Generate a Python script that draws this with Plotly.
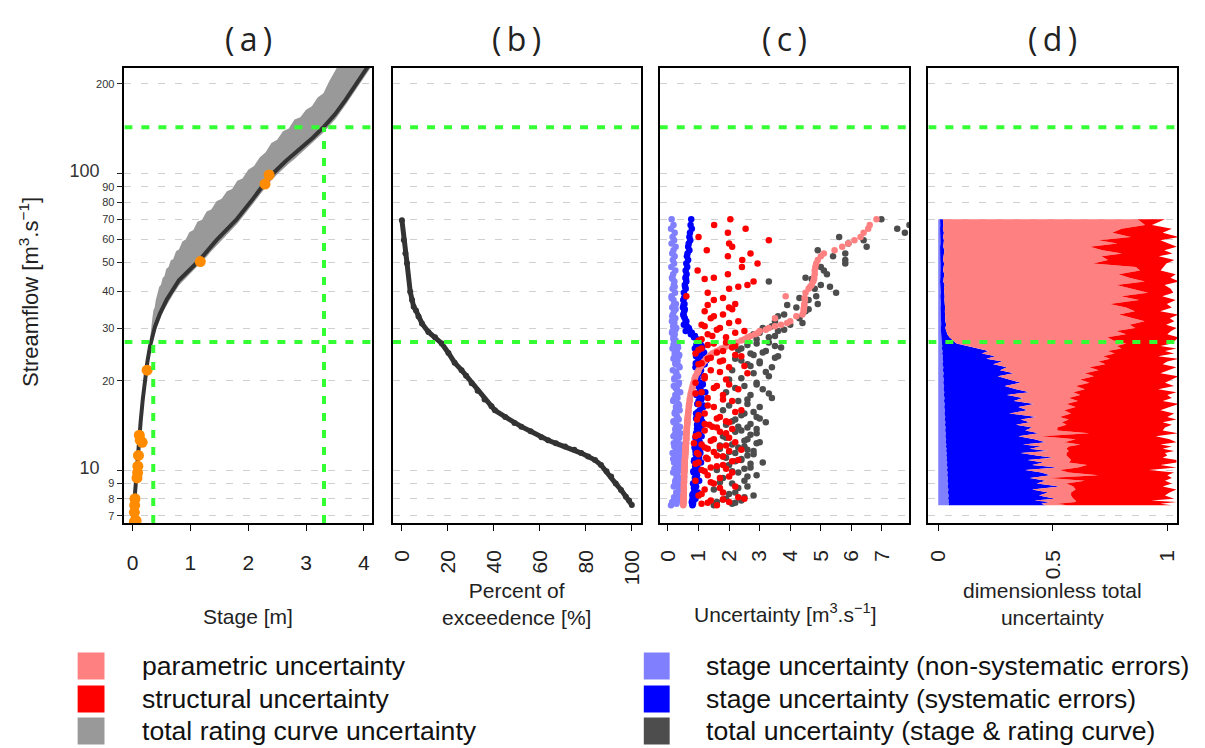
import plotly.graph_objects as go

W, H = 1205, 748

# ---------------- data ----------------
# (a) rating curve
stage_curve = [0, 0.035, 0.07, 0.10, 0.14, 0.175, 0.21, 0.255, 0.30, 0.34, 0.385, 0.47, 0.585,
               0.80, 1.16, 1.45, 1.79, 2.08, 2.37, 2.65, 2.94, 3.12, 3.31, 3.50, 3.68, 3.86, 4.03, 4.14]
flow_curve = [6.63, 8.2, 10.0, 12.2, 14.7, 17.3, 20.1, 23.2, 26.1, 28.5, 30.4, 33.6, 37.4,
              43.6, 51.1, 59.5, 69.6, 82.0, 97.4, 110, 123, 132, 143.6, 158, 176.5, 199, 223, 240]
band_stage = [0.30, 0.32, 0.34, 0.36, 0.38, 0.40, 0.43, 0.46, 0.49, 0.52, 0.55, 0.58, 0.62, 0.66,
              0.70, 0.75, 0.80, 0.86, 0.92, 0.98, 1.05, 1.12, 1.20, 1.28, 1.36, 1.45, 1.54, 1.63,
              1.72, 1.81, 1.90, 2.00, 2.10, 2.20, 2.30, 2.40, 2.50, 2.60, 2.70, 2.80, 2.90, 3.00,
              3.10, 3.20, 3.30, 3.40, 3.51, 3.7, 3.9, 4.14]
band_low = [25.1, 26.2, 27.4, 28.1, 29.0, 29.7, 30.8, 31.9, 32.9, 33.9, 34.8, 35.7, 36.9, 38.0,
            39.1, 40.4, 41.9, 43.1, 44.3, 45.5, 46.8, 48.3, 50.1, 52.3, 54.6, 57.1, 59.5, 62.1,
            64.8, 67.6, 71.0, 75.2, 79.7, 84.7, 89.9, 94.8, 99.1, 103.5, 107.6, 111.8, 116.4, 121.0,
            125.8, 131.0, 137.3, 144.3, 152.4, 171.8, 195.8, 230.4]
band_high = [27.5, 30.9, 32.5, 34.6, 35.2, 37.4, 39.1, 41.5, 42.1, 44.5, 45.0, 47.6, 48.3, 50.9,
             51.3, 54.6, 55.4, 58.9, 59.9, 63.3, 64.4, 68.6, 69.8, 74.4, 75.5, 80.5, 82.0, 87.0,
             88.6, 94.4, 96.0, 102.7, 105.9, 113.3, 117.8, 126.5, 129.7, 138.6, 141.6, 151.8,
             154.4, 163.9, 168.3, 180.1, 186.1, 204.4, 223, 260, 290, 330]
gauge_stage = [2.36, 2.29, 1.17, 0.25, 0.115, 0.13, 0.165, 0.10, 0.09, 0.085, 0.075, 0.04,
               0.035, 0.03, 0.06, 0.03]
gauge_flow = [98.7, 92.0, 50.4, 21.7, 13.1, 12.6, 12.4, 11.2, 10.3, 9.8, 9.4, 8.0,
              7.6, 7.2, 6.75, 6.7]

# thresholds (green lines)
flow_low_thr = 27.0
flow_high_thr = 143.0
stage_low_thr = 0.356
stage_high_thr = 3.31

# (b) flow duration curve
exceed_pct = [0.1, 0.9, 1.6, 2.3, 3.7, 4.5, 5.2, 6.2, 7.3, 8.8, 11.6, 14.5, 17.4, 20.3, 23, 26, 28,
              30.4, 33, 36, 39, 40.5, 45, 49, 52, 56, 60.7, 63.6, 67, 71, 75, 78, 81, 84, 86.6,
              89, 91, 93, 95.3, 97.4, 98.8, 100]
exceed_flow = [69.5, 59.6, 53.7, 49.8, 39.9, 37.4, 35.5, 34.5, 32.9, 31.2, 29.2, 28.0, 26.7, 24.8,
               23.0, 21.7, 20.8, 19.6, 18.5, 17.3, 16.4, 15.9, 15.1, 14.4, 14.0, 13.5, 12.9, 12.6,
               12.3, 12.0, 11.7, 11.4, 11.1, 10.8, 10.4, 9.9, 9.5, 9.0, 8.57, 8.13, 7.9, 7.62]

# (c) & (d) daily flows
flows = [70, 67, 65, 63, 61, 59.5, 58, 56.5, 55, 53.7, 52.5, 51, 49.7, 48.3, 47, 45.7, 44.5, 43.2,
         42, 40.8, 39.6, 38.5, 37.4, 36.3, 35.3, 34.3, 33.4, 32.5, 31.7, 30.9, 30.1, 29.4, 28.7,
         28.0, 27.3,
         26.7, 26.2, 25.7, 25.2, 24.7, 24.2, 23.7, 23.2, 22.7, 22.2, 21.7, 21.2, 20.7, 20.2, 19.7,
         19.2, 18.7, 18.3, 17.9, 17.5, 17.1, 16.7, 16.3, 15.9, 15.5, 15.1, 14.8, 14.5, 14.2, 13.9,
         13.6, 13.3, 13.0, 12.7, 12.4, 12.2, 12.0, 11.8, 11.6, 11.4, 11.2, 11.0, 10.8, 10.6, 10.4,
         10.2, 10.0, 9.8, 9.6, 9.4, 9.2, 9.0, 8.8, 8.6, 8.4, 8.2, 8.0, 7.9, 7.8, 7.7, 7.6]
# further days shown in (c)
flows_more = [44.0, 41.5, 38.0, 36.0, 34.8, 33.0, 31.3, 30.5, 29.7, 29.0, 28.3, 27.6,
              26.9, 26.4, 25.9, 25.4, 24.9, 24.4, 23.9, 23.4, 22.9, 22.4, 21.4, 20.4, 19.4, 18.9,
              18.1, 17.3, 16.5, 15.7, 15.3, 14.9, 14.6, 14.3, 14.0, 13.75,
              13.45, 13.15, 12.85, 12.55, 12.3, 12.1, 11.9, 11.7, 11.5, 11.3, 11.1, 10.9, 10.7,
              10.5, 10.3, 10.1, 9.9, 9.5, 9.1, 8.7, 8.3, 8.1, 7.95, 7.75]

# (c) uncertainties [m3/s]
unc_stage_nonsys = [0.12, 0.18, 0.10, 0.22, 0.15, 0.20, 0.12, 0.25, 0.18, 0.14, 0.22, 0.16, 0.20, 0.11,
                    0.24, 0.17, 0.13, 0.21, 0.19, 0.15, 0.23, 0.12, 0.18, 0.26, 0.14, 0.20, 0.16, 0.24,
                    0.13, 0.19, 0.27, 0.15, 0.22, 0.18, 0.25,
                    0.20, 0.32, 0.15, 0.28, 0.22, 0.35, 0.18, 0.30, 0.25, 0.38, 0.16, 0.27, 0.33, 0.21,
                    0.36, 0.19, 0.29, 0.40, 0.24, 0.31, 0.17, 0.34, 0.26, 0.38, 0.22, 0.30, 0.35, 0.19,
                    0.28, 0.37,
                    0.25, 0.40, 0.18, 0.33, 0.28, 0.42, 0.21, 0.36, 0.30, 0.15, 0.38, 0.26, 0.43, 0.20,
                    0.34, 0.29, 0.39, 0.17, 0.31, 0.41, 0.24, 0.35, 0.19, 0.37, 0.27, 0.44, 0.22, 0.32,
                    0.14, 0.28, 0.10]
unc_stage_nonsys_more = [0.15, 0.22, 0.12, 0.19, 0.25, 0.14, 0.21, 0.17, 0.24, 0.13, 0.20, 0.18,
                         0.26, 0.18, 0.33, 0.22, 0.29, 0.37, 0.20, 0.31, 0.24, 0.35, 0.27, 0.21, 0.34,
                         0.25, 0.30, 0.19, 0.36, 0.23, 0.28, 0.32, 0.18, 0.26, 0.39, 0.24,
                         0.30, 0.22, 0.37, 0.27, 0.19, 0.34, 0.25, 0.41, 0.29, 0.23, 0.36, 0.17, 0.32,
                         0.26, 0.39, 0.21, 0.33, 0.28, 0.24, 0.36, 0.30, 0.20, 0.35, 0.26]
unc_stage_sys = [0.76, 0.74, 0.78, 0.72, 0.70, 0.73, 0.68, 0.66, 0.70, 0.64, 0.62, 0.66, 0.60, 0.63,
                 0.58, 0.61, 0.57, 0.60, 0.55, 0.58, 0.52, 0.56, 0.50, 0.54, 0.49, 0.53, 0.50, 0.55,
                 0.60, 0.52, 0.68, 0.58, 0.75, 0.85, 1.00,
                 0.95, 1.10, 0.88, 1.02, 1.15, 0.92, 1.05, 0.98, 1.20, 0.90, 1.08, 1.00, 1.18, 0.94,
                 1.12, 0.97, 1.05, 1.22, 0.93, 1.10, 1.00, 0.96, 1.15, 1.04, 0.92, 1.08, 1.00, 1.13,
                 0.95, 1.06,
                 1.00, 0.92, 1.10, 0.96, 1.04, 0.88, 1.12, 0.98, 0.90, 1.06, 0.94, 1.02, 0.86, 1.08,
                 0.96, 0.90, 1.00, 0.84, 0.95, 0.88, 1.02, 0.82, 0.92, 0.86, 0.98, 0.80, 0.90, 0.84,
                 0.78, 0.82, 0.80]
unc_stage_sys_more = [0.59, 0.56, 0.53, 0.51, 0.55, 0.52, 0.57, 0.62, 0.70, 0.78, 0.88, 0.95,
                      1.05, 0.93, 1.12, 0.99, 1.18, 0.95, 1.07, 1.25, 0.91, 1.10, 1.02, 0.97, 1.14,
                      1.06, 0.94, 1.09, 1.16, 0.98, 1.03, 0.92, 1.11, 0.99, 1.07, 0.95,
                      0.97, 1.05, 0.90, 1.01, 0.93, 1.09, 0.87, 0.99, 1.04, 0.91, 0.96, 1.00, 0.85,
                      0.94, 0.89, 0.97, 0.83, 0.93, 0.88, 0.85, 0.81, 0.86, 0.80, 0.79]
unc_param = [6.82, 6.6, 6.55, 6.4, 6.3, 6.1, 5.9, 5.7, 5.45, 5.1, 5.0, 4.9, 4.85, 4.82, 4.8, 4.8,
             4.78, 4.75, 4.7, 4.6, 4.5, 3.85, 4.48, 4.46, 4.45, 4.44, 4.4, 3.5, 4.0, 3.7, 3.3, 3.0,
             2.85, 2.6, 2.4,
             2.15, 1.95, 1.75, 1.6, 1.45, 1.35, 1.25, 1.18, 1.1, 1.05, 1.0, 0.95, 0.9, 0.87, 0.84,
             0.81, 0.78, 0.76, 0.74, 0.72, 0.71, 0.69, 0.68, 0.67, 0.66, 0.65, 0.64, 0.63, 0.63, 0.62,
             0.61, 0.61, 0.60, 0.60, 0.59, 0.59, 0.58, 0.58, 0.57, 0.57, 0.56, 0.56, 0.55, 0.55, 0.55,
             0.54, 0.54, 0.54, 0.53, 0.53, 0.53, 0.52, 0.52, 0.52, 0.52, 0.51, 0.51, 0.51, 0.51, 0.50,
             0.50]
unc_param_more = [4.78, 4.65, 4.47, 4.46, 4.44, 4.2, 3.9, 3.5, 3.2, 2.95, 2.7, 2.5,
                  2.25, 2.05, 1.85, 1.68, 1.52, 1.4, 1.3, 1.22, 1.14, 1.08, 0.98, 0.88, 0.82, 0.80,
                  0.75, 0.715, 0.69, 0.665, 0.655, 0.645, 0.635, 0.63, 0.62, 0.615,
                  0.61, 0.60, 0.60, 0.59, 0.59, 0.58, 0.58, 0.57, 0.57, 0.565, 0.56, 0.555, 0.55,
                  0.55, 0.545, 0.54, 0.535, 0.53, 0.525, 0.52, 0.515, 0.51, 0.505, 0.50]
unc_struct = [2.04, 1.51, 2.54, 1.96, 1.0, 3.3, 2.0, 2.1, 1.27, 2.7, 1.96, 2.43, 2.93, 2.42, 0.97,
              1.96, 1.5, 2.8, 2.6, 2.0, 1.3, 0.6, 1.5, 2.2, 2.0, 1.2, 1.8, 1.4, 2.3, 1.1, 1.7, 2.5,
              1.3, 1.9, 1.0,
              1.5, 2.2, 1.1, 1.8, 0.9, 2.4, 1.3, 1.7, 1.0, 2.0, 1.4, 2.6, 1.2, 1.9, 0.9, 1.6, 2.3,
              1.1, 1.8, 1.3, 2.1, 1.0, 1.5, 2.4, 1.2, 1.7, 0.95, 2.0, 1.35, 1.6,
              1.2, 1.9, 0.9, 1.5, 2.2, 1.1, 1.7, 1.3, 2.0, 0.95, 1.6, 1.25, 2.3, 1.0, 1.8, 1.4, 1.1,
              2.1, 1.3, 1.7, 0.9, 1.5, 2.2, 1.2, 1.8, 1.0, 2.5, 1.4, 2.0, 1.1, 1.6]
unc_struct_more = [1.2, 2.3, 1.8, 1.3, 2.1, 1.5, 2.0, 1.2, 1.6, 2.2, 1.45, 1.1,
                   1.9, 1.3, 2.1, 1.0, 1.6, 2.2, 1.4, 1.8, 1.1, 2.5, 1.7, 1.2, 2.0, 1.5, 0.9, 1.8,
                   1.3, 2.2, 1.0, 1.6, 1.9, 1.2, 1.45, 2.1,
                   1.7, 1.0, 2.0, 1.4, 0.85, 1.9, 1.2, 2.4, 1.5, 1.0, 1.8, 1.3, 2.1, 0.9, 1.6, 1.9,
                   1.2, 2.0, 1.4, 1.7, 1.1, 2.3, 1.8, 1.3]
unc_total = [6.98, 7.9, 7.5, 7.75, 5.6, 6.4, 5.9, 6.5, 4.9, 5.8, 5.4, 5.8, 5.8, 5.0, 5.1, 5.2, 4.5,
             3.3, 5.0, 4.8, 5.5, 4.85, 4.6, 4.9, 4.2, 4.5, 3.8, 4.3, 3.5, 4.0, 3.1, 3.6, 2.8, 3.3, 2.6,
             2.9, 3.5, 2.4, 3.2, 2.7, 3.6, 2.2, 3.0, 2.6, 3.4, 2.1, 2.8, 3.3, 2.0, 2.9, 2.5, 3.1,
             1.9, 2.7, 3.4, 2.3, 2.6, 3.0, 1.8, 2.5, 2.9, 2.2, 3.2, 1.9, 2.6,
             2.4, 2.9, 1.8, 2.6, 3.0, 2.1, 2.5, 1.7, 2.8, 2.2, 2.6, 1.9, 2.4, 3.1, 2.0, 2.7, 1.6,
             2.3, 2.9, 1.8, 2.5, 2.1, 2.6, 1.5, 2.2, 2.8, 1.9, 2.4, 1.6, 2.1, 1.5]
unc_total_more = [4.7, 5.3, 4.3, 3.9, 4.6, 3.6, 4.4, 3.4, 3.8, 3.0, 3.5, 2.9,
                  3.3, 2.6, 3.7, 2.3, 3.1, 2.8, 3.5, 2.4, 3.0, 2.7, 3.2, 2.4, 2.9, 2.2, 3.3, 2.6,
                  2.0, 2.8, 2.4, 3.0, 2.1, 2.7, 2.3, 2.9,
                  2.2, 2.7, 1.9, 2.5, 2.9, 1.7, 2.3, 2.6, 2.0, 2.8, 1.8, 2.4, 2.2, 2.7, 1.9, 2.5,
                  2.1, 2.6, 1.7, 2.3, 2.0, 2.5, 1.8, 2.2]

# (d) dimensionless contributions
frac_stage_nonsys = [0.008, 0.009, 0.008, 0.010, 0.008, 0.009, 0.010, 0.008, 0.009, 0.010, 0.008, 0.009,
                     0.010, 0.009, 0.008, 0.010, 0.009, 0.008, 0.010, 0.009, 0.011, 0.009, 0.010, 0.012,
                     0.010, 0.011, 0.012, 0.010, 0.012, 0.013, 0.011, 0.013, 0.012, 0.014, 0.015,
                     0.016, 0.018, 0.015, 0.020, 0.017, 0.021, 0.019, 0.022, 0.018, 0.023, 0.020, 0.024,
                     0.021, 0.025, 0.022, 0.026, 0.023, 0.027, 0.024, 0.028, 0.025, 0.029, 0.026, 0.030,
                     0.027, 0.031, 0.028, 0.032, 0.029, 0.033,
                     0.030, 0.034, 0.031, 0.035, 0.032, 0.036, 0.033, 0.037, 0.034, 0.038, 0.035, 0.039,
                     0.036, 0.040, 0.037, 0.041, 0.038, 0.042, 0.039, 0.043, 0.040, 0.044, 0.041, 0.045,
                     0.042, 0.046, 0.043, 0.047, 0.044, 0.048, 0.045]
frac_stage_sys = [0.012, 0.014, 0.012, 0.015, 0.013, 0.016, 0.012, 0.014, 0.018, 0.013, 0.015, 0.012,
                  0.016, 0.014, 0.013, 0.017, 0.015, 0.014, 0.018, 0.016, 0.015, 0.019, 0.017, 0.016,
                  0.020, 0.018, 0.017, 0.021, 0.019, 0.022, 0.020, 0.024, 0.028, 0.035, 0.050,
                  0.064, 0.112, 0.155, 0.200, 0.173, 0.229, 0.191, 0.258, 0.222, 0.277, 0.250, 0.306,
                  0.239, 0.285, 0.338, 0.264, 0.317, 0.373, 0.276, 0.342, 0.305, 0.391, 0.324, 0.360,
                  0.283, 0.399, 0.332, 0.368, 0.311, 0.377,
                  0.350, 0.406, 0.319, 0.385, 0.438, 0.334, 0.417, 0.363, 0.446, 0.322, 0.395, 0.461,
                  0.354, 0.420, 0.373, 0.479, 0.342, 0.408, 0.451, 0.357, 0.430, 0.386, 0.489, 0.365,
                  0.438, 0.394, 0.467, 0.373, 0.446, 0.402, 0.425]
frac_param = [0.85, 0.88, 0.78, 0.735, 0.82, 0.675, 0.76, 0.64, 0.69, 0.78, 0.69, 0.72, 0.65, 0.84,
              0.86, 0.76, 0.81, 0.88, 0.75, 0.82, 0.89, 0.77, 0.85, 0.72, 0.79, 0.83, 0.76, 0.81,
              0.87, 0.80, 0.83, 0.74, 0.78, 0.69, 0.70,
              0.74, 0.65, 0.63, 0.52, 0.58, 0.47, 0.54, 0.42, 0.49, 0.36, 0.43, 0.31, 0.42, 0.31,
              0.30, 0.31, 0.30, 0.19, 0.32, 0.20, 0.28, 0.14, 0.25, 0.16, 0.27, 0.10, 0.21, 0.14,
              0.22, 0.11,
              0.14, 0.22, 0.10, 0.18, 0.08, 0.25, 0.12, 0.16, 0.09, 0.20, 0.13, 0.07, 0.19, 0.11,
              0.24, 0.09, 0.15, 0.12, 0.21, 0.08, 0.17, 0.13, 0.06, 0.19, 0.10, 0.14, 0.08, 0.18,
              0.11, 0.07, 0.09]
frac_struct = [0.12, 0.03, 0.22, 0.22, 0.21, 0.27, 0.22, 0.38, 0.27, 0.22, 0.25, 0.29, 0.32, 0.12,
               0.09, 0.25, 0.18, 0.15, 0.21, 0.17, 0.11, 0.18, 0.16, 0.25, 0.20, 0.11, 0.26, 0.17,
               0.13, 0.16, 0.18, 0.24, 0.18, 0.31, 0.27,
               0.20, 0.19, 0.24, 0.25, 0.26, 0.24, 0.30, 0.30, 0.25, 0.38, 0.31, 0.33, 0.37, 0.40,
               0.33, 0.43, 0.32, 0.45, 0.38, 0.45, 0.37, 0.49, 0.41, 0.42, 0.45, 0.47, 0.47, 0.44,
               0.46, 0.47,
               0.46, 0.39, 0.50, 0.41, 0.49, 0.35, 0.45, 0.42, 0.46, 0.43, 0.44, 0.41, 0.46, 0.47,
               0.32, 0.43, 0.39, 0.46, 0.30, 0.54, 0.35, 0.46, 0.39, 0.44, 0.43, 0.41, 0.44, 0.33,
               0.44, 0.45, 0.46]

panel_titles = ["(\u2009a\u2009)", "(\u2009b\u2009)", "(\u2009c\u2009)", "(\u2009d\u2009)"]
y_tickvals = [7, 8, 9, 10, 20, 30, 40, 50, 60, 70, 80, 90, 100, 200]
y_ticktext = ["7", "8", "9", "10", "20", "30", "40", "50", "60", "70", "80", "90", "100", "200"]
y_big_labels = ["10", "100"]
legend_left = ["parametric uncertainty", "structural uncertainty", "total rating curve uncertainty"]
legend_right = ["stage uncertainty (non-systematic errors)", "stage uncertainty (systematic errors)",
                "total uncertainty (stage & rating curve)"]
x_titles = ["Stage [m]", "Percent of<br>exceedence [%]", "Uncertainty [m<sup>3</sup>.s<sup>\u22121</sup>]",
            "dimensionless total<br>uncertainty"]

# ---------------- style ----------------
C_PARAM = "#FF8080"
C_STRUCT = "#FF0000"
C_RCGRAY = "#999999"
C_NONSYS = "#8080FF"
C_SYS = "#0000FF"
C_TOTAL = "#4D4D4D"
C_GREEN = "#33FF33"
C_ORANGE = "#FF8C00"
GREEN_DASH = "8px,9px"
FONT = "Liberation Sans, Arial, sans-serif"

YLOG_RANGE = [0.8214, 2.3549]
Y_BOTTOM = 10 ** YLOG_RANGE[0]
X_RANGES = [[-0.143, 4.143], [-3.76, 103.9], [-0.27, 7.9], [-0.043, 1.043]]
PIX_DOMAINS = [(121, 370), (391, 640), (659, 910), (929, 1179)]
Y_TOP_PX, Y_BOT_PX = 68, 523


def px(x):
    return x / W


def py(y):
    return 1 - y / H


fig = go.Figure()

# ---- (a)
fig.add_trace(go.Scatter(x=band_stage, y=band_low, mode="lines", line=dict(width=0, color=C_RCGRAY),
                         xaxis="x", yaxis="y", hoverinfo="skip"))
fig.add_trace(go.Scatter(x=band_stage, y=band_high, mode="lines", line=dict(width=0, color=C_RCGRAY),
                         fill="tonexty", fillcolor=C_RCGRAY, xaxis="x", yaxis="y"))
fig.add_trace(go.Scatter(x=stage_curve, y=flow_curve, mode="lines", line=dict(color="#333333", width=4),
                         xaxis="x", yaxis="y"))
fig.add_trace(go.Scatter(x=gauge_stage, y=gauge_flow, mode="markers",
                         marker=dict(color=C_ORANGE, size=11, line=dict(width=0)), xaxis="x", yaxis="y"))

# ---- (b)
fig.add_trace(go.Scatter(x=exceed_pct, y=exceed_flow, mode="lines+markers",
                         line=dict(color="#333333", width=5),
                         marker=dict(color="#333333", size=6), xaxis="x2", yaxis="y2"))

# ---- (c)
for vals, more, col in [(unc_total, unc_total_more, C_TOTAL),
                        (unc_stage_nonsys, unc_stage_nonsys_more, C_NONSYS),
                        (unc_stage_sys, unc_stage_sys_more, C_SYS),
                        (unc_param, unc_param_more, C_PARAM),
                        (unc_struct, unc_struct_more, C_STRUCT)]:
    fig.add_trace(go.Scatter(x=vals + more, y=flows + flows_more, mode="markers",
                             marker=dict(color=col, size=6.5, line=dict(width=0)),
                             xaxis="x3", yaxis="y3"))

# ---- (d)
for vals, col in [(frac_stage_nonsys, C_NONSYS), (frac_stage_sys, C_SYS),
                  (frac_param, C_PARAM), (frac_struct, C_STRUCT)]:
    fig.add_trace(go.Scatter(x=vals, y=flows, mode="lines", stackgroup="d", orientation="h",
                             line=dict(width=0, color=col), fillcolor=col,
                             xaxis="x4", yaxis="y4"))

# ---- green threshold lines
for i, xr in enumerate(X_RANGES):
    xa = "x" if i == 0 else f"x{i+1}"
    ya = "y" if i == 0 else f"y{i+1}"
    for thr in (flow_low_thr, flow_high_thr):
        fig.add_trace(go.Scatter(x=xr, y=[thr, thr], mode="lines",
                                 line=dict(color=C_GREEN, width=4, dash=GREEN_DASH),
                                 xaxis=xa, yaxis=ya))
for st, thr in ((stage_low_thr, flow_low_thr), (stage_high_thr, flow_high_thr)):
    fig.add_trace(go.Scatter(x=[st, st], y=[Y_BOTTOM, thr], mode="lines",
                             line=dict(color=C_GREEN, width=4, dash=GREEN_DASH),
                             xaxis="x", yaxis="y"))

# ---------------- layout ----------------
layout = dict(width=W, height=H, margin=dict(l=0, r=0, t=0, b=0),
              paper_bgcolor="white", plot_bgcolor="white", showlegend=False,
              font=dict(family=FONT, color="#222222"))

x_ticks = [
    dict(tickvals=[0, 1, 2, 3, 4], tickangle=0, ticklabelstandoff=14),
    dict(tickvals=[0, 20, 40, 60, 80, 100], tickangle=-90, ticklabelstandoff=11),
    dict(tickvals=[0, 1, 2, 3, 4, 5, 6, 7], tickangle=-90, ticklabelstandoff=11),
    dict(tickvals=[0, 0.5, 1], ticktext=["0", "0.5", "1"], tickangle=-90, ticklabelstandoff=11),
]
# large labels for decades, padded so they sit further left like the original
y_labels = []
for t in y_ticktext:
    if t in y_big_labels:
        y_labels.append('<span style="font-size:18px">' + t + '\u00a0\u00a0\u00a0</span>')
    else:
        y_labels.append(t)

for i in range(4):
    key = "xaxis" if i == 0 else f"xaxis{i+1}"
    yname = "y" if i == 0 else f"y{i+1}"
    d0, d1 = PIX_DOMAINS[i]
    ax = dict(domain=[px(d0), px(d1)], anchor=yname, range=X_RANGES[i],
              showgrid=False, zeroline=False, showline=True, mirror=True,
              linecolor="black", linewidth=1.5, ticks="outside", ticklen=6, tickwidth=1.2,
              tickcolor="black", tickfont=dict(size=21, family=FONT, color="#222222"))
    ax.update(x_ticks[i])
    layout[key] = ax

    ykey = "yaxis" if i == 0 else f"yaxis{i+1}"
    xname = "x" if i == 0 else f"x{i+1}"
    yax = dict(domain=[py(Y_BOT_PX), py(Y_TOP_PX)], anchor=xname, type="log", range=YLOG_RANGE,
               tickvals=y_tickvals, showgrid=True, gridcolor="#D0D0D0", gridwidth=1.2,
               griddash="7px,10px", zeroline=False, showline=True, mirror=True,
               linecolor="black", linewidth=1.5)
    if i == 0:
        yax.update(ticktext=y_labels, ticks="outside", ticklen=6, tickwidth=1.2, tickcolor="#222222",
                   tickfont=dict(size=11, family=FONT, color="#333333"))
    else:
        yax.update(showticklabels=False, ticks="")
    layout[ykey] = yax

fig.update_layout(**layout)

ann = []
# panel titles
for i, t in enumerate(panel_titles):
    d0, d1 = PIX_DOMAINS[i]
    ann.append(dict(text=t, x=px((d0 + d1) / 2), y=py(39), xref="paper", yref="paper",
                    showarrow=False, xanchor="center", yanchor="middle",
                    font=dict(family="Open Sans, DejaVu Sans, sans-serif", size=32, color="#222222")))
# y title
ann.append(dict(text="Streamflow [m<sup>3</sup>.s<sup>\u22121</sup>]", x=px(25), y=py(292),
                xref="paper", yref="paper", showarrow=False, textangle=-90,
                xanchor="center", yanchor="middle", font=dict(family=FONT, size=22, color="#222222")))
# x titles
x_title_y = [616, 604, 613, 604]
for i, t in enumerate(x_titles):
    d0, d1 = PIX_DOMAINS[i]
    ann.append(dict(text=t, x=px((d0 + d1) / 2), y=py(x_title_y[i]), xref="paper", yref="paper",
                    showarrow=False, xanchor="center", yanchor="middle",
                    font=dict(family=FONT, size=21, color="#222222")))

# custom legend
shapes = []
row_y = [666, 699, 731]
for j, (lab, col) in enumerate(zip(legend_left, [C_PARAM, C_STRUCT, C_RCGRAY])):
    shapes.append(dict(type="rect", xref="paper", yref="paper", x0=px(74), x1=px(101),
                       y0=py(row_y[j] + 13.5), y1=py(row_y[j] - 13.5), fillcolor=col,
                       line=dict(width=0)))
    ann.append(dict(text=lab, x=px(137), y=py(row_y[j]), xref="paper", yref="paper",
                    showarrow=False, xanchor="left", yanchor="middle",
                    font=dict(family=FONT, size=26.6, color="#111111")))
for j, (lab, col) in enumerate(zip(legend_right, [C_NONSYS, C_SYS, C_TOTAL])):
    shapes.append(dict(type="rect", xref="paper", yref="paper", x0=px(643), x1=px(669),
                       y0=py(row_y[j] + 13.5), y1=py(row_y[j] - 13.5), fillcolor=col,
                       line=dict(width=0)))
    ann.append(dict(text=lab, x=px(704), y=py(row_y[j]), xref="paper", yref="paper",
                    showarrow=False, xanchor="left", yanchor="middle",
                    font=dict(family=FONT, size=26.6, color="#111111")))

fig.update_layout(annotations=ann, shapes=shapes)
fig.write_html("out.html")
